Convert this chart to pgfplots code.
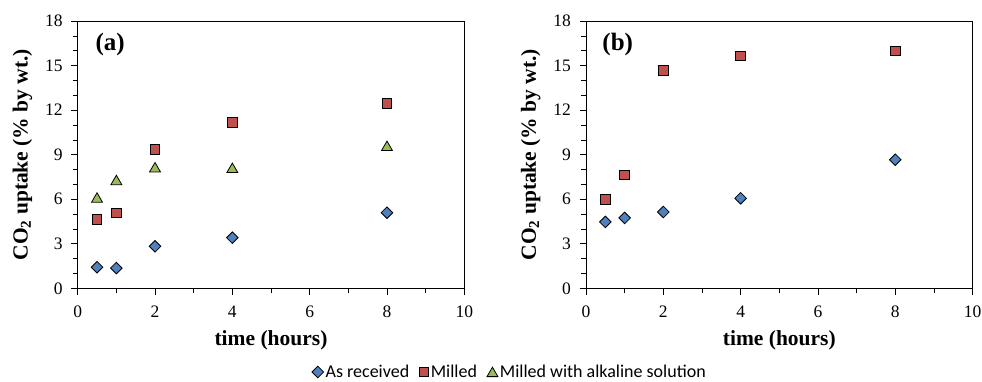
\documentclass[border=0pt]{standalone}
\usepackage{pgfplots}
\pgfplotsset{compat=1.18}
\usepackage{fontspec}
\setmainfont{Liberation Serif}
\newfontfamily\legfont{Carlito}
\definecolor{cblue}{HTML}{4F81BD}
\definecolor{cred}{HTML}{C0504D}
\definecolor{cgreen}{HTML}{9BBB59}
\pgfplotsset{
  myaxis/.style={
    scale only axis, width=386.6pt, height=267.3pt,
    xmin=0, xmax=10, ymin=0, ymax=18,
    xtick={0,2,4,6,8,10}, ytick={0,3,6,9,12,15,18},
    xticklabels={0,2,4,6,8,10}, yticklabels={0,3,6,9,12,15,18},
    minor x tick num=1, minor y tick num=2,
    tick align=outside, tick pos=left,
    major tick length=6.5pt, minor tick length=5pt,
    every tick/.style={black, line width=0.6pt},
    axis line style={line width=0.7pt},
    tick label style={font=\fontsize{17.5}{20}\selectfont},
    xticklabel style={yshift=-8pt},
    yticklabel style={xshift=-5pt},
    xlabel={\textbf{time (hours)}},
    ylabel={\textbf{CO\textsubscript{2} uptake (\% by wt.)}},
    label style={font=\fontsize{21.5}{24}\selectfont},
    xlabel style={yshift=-6pt},
    ylabel style={yshift=6pt},
    clip=false,
  },
  dia/.style={only marks, mark=square*, mark size=4.1pt, mark options={rotate=45, fill=cblue, draw=black, line width=0.8pt}},
  sq/.style={only marks, mark=square*, mark size=4.8pt, mark options={fill=cred, draw=black, line width=0.8pt}},
  tri/.style={only marks, mark=triangle*, mark size=6.3pt, mark options={fill=cgreen, draw=black, line width=0.8pt, yshift=-1.5pt}},
}
\begin{document}
\begin{tikzpicture}
\useasboundingbox (-77.7pt,-92.7pt) rectangle (904.3pt,288.3pt);
\begin{axis}[myaxis, at={(0pt,0pt)}, anchor=south west,
  legend columns=3,
  legend style={at={(1.118,-0.313)}, anchor=center, draw=none,
    font=\legfont\fontsize{18}{20}\selectfont,
    /tikz/every even column/.append style={column sep=8pt}},
  legend image code/.code={\draw[#1] plot coordinates {(0cm,0cm)};},
]
\addplot[dia] coordinates {(0.5,1.42) (1,1.36) (2,2.83) (4,3.41) (8,5.09)};
\addlegendentry{As received}
\addplot[sq] coordinates {(0.5,4.64) (1,5.09) (2,9.36) (4,11.17) (8,12.45)};
\addlegendentry{Milled}
\addplot[tri] coordinates {(0.5,6.11) (1,7.29) (2,8.15) (4,8.11) (8,9.59)};
\addlegendentry{Milled with alkaline solution}
\node[font=\bfseries\fontsize{25}{28}\selectfont] at (axis cs:0.84,16.4) {(a)};
\end{axis}
\begin{axis}[myaxis, at={(508.3pt,0pt)}, anchor=south west]
\addplot[dia] coordinates {(0.5,4.47) (1,4.74) (2,5.14) (4,6.06) (8,8.66)};
\addplot[sq] coordinates {(0.5,5.97) (1,7.65) (2,14.68) (4,15.64) (8,16.0)};
\node[font=\bfseries\fontsize{25}{28}\selectfont] at (axis cs:0.82,16.4) {(b)};
\end{axis}
\end{tikzpicture}
\end{document}
